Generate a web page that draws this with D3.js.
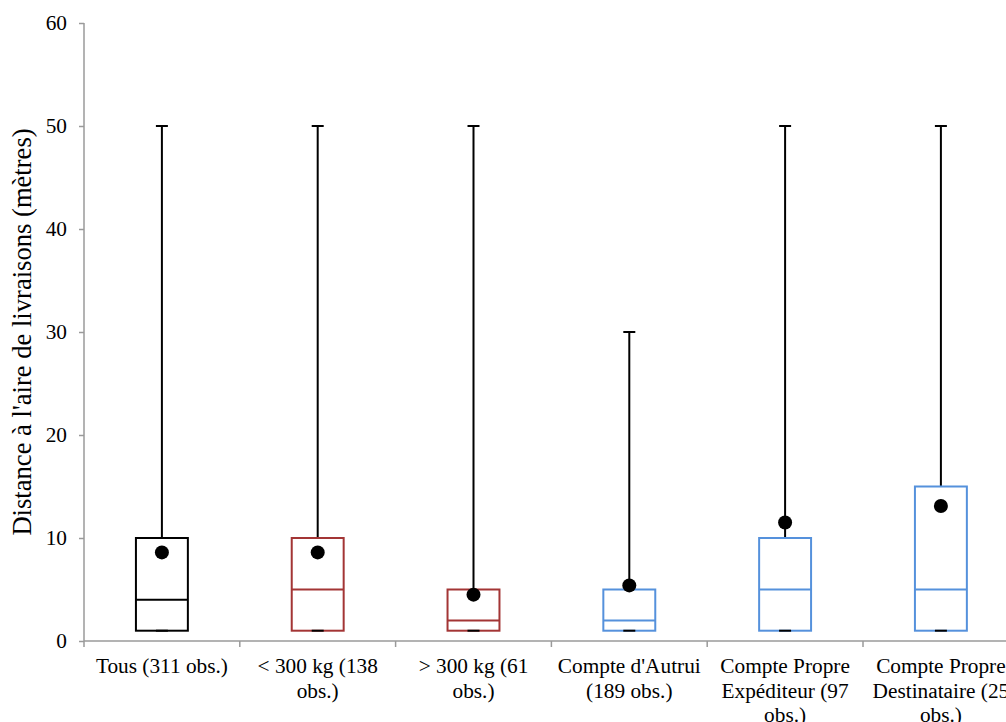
<!DOCTYPE html>
<html><head><meta charset="utf-8">
<script src="https://cdn.jsdelivr.net/npm/d3@7"></script>
<style>body{margin:0;background:#fff}svg{display:block}svg text{font-family:"Liberation Serif","Times New Roman","DejaVu Serif",serif}</style>
</head><body>
<script>
const categories = ["Tous (311 obs.)", "< 300 kg (138\nobs.)", "> 300 kg (61\nobs.)", "Compte d'Autrui\n(189 obs.)", "Compte Propre\nExpéditeur (97\nobs.)", "Compte Propre\nDestinataire (25\nobs.)"];
const minVals = [1, 1, 1, 1, 1, 1];
const q1Vals = [1, 1, 1, 1, 1, 1];
const medianVals = [4, 5, 2, 2, 5, 5];
const q3Vals = [10, 10, 5, 5, 10, 15];
const maxVals = [50, 50, 50, 30, 50, 50];
const meanVals = [8.6, 8.6, 4.5, 5.4, 11.5, 13.1];
const boxColors = ["#000000", "#a33535", "#a33535", "#5591dc", "#5591dc", "#5591dc"];
const yTicks = [0, 10, 20, 30, 40, 50, 60];
const yTitle = "Distance à l'aire de livraisons (mètres)";

(function () {
const W = 1006, H = 722;
const mLeft = 84, mTop = 23, mBottom = 641;
const bandW = 155.8;
const svg = d3.select("body").append("svg").attr("width", W).attr("height", H);
const x = d3.scaleBand().domain(categories).range([mLeft, mLeft + bandW * categories.length]).padding(0);
const y = d3.scaleLinear().domain([0, 60]).range([mBottom, mTop]);

// y axis
const yAxis = svg.append("g").attr("transform", `translate(${mLeft},0)`)
  .call(d3.axisLeft(y).tickValues(yTicks).tickSize(5).tickPadding(12));
yAxis.attr("font-family", null);
yAxis.selectAll("path,line").attr("stroke", "#9a9a9a").attr("stroke-width", 1.5);
yAxis.select(".domain").attr("d", `M0,${mTop}V${mBottom}`);
yAxis.selectAll("text").attr("font-size", 21.3).attr("fill", "#000");

// x axis
const xAxis = svg.append("g").attr("transform", `translate(0,${mBottom})`);
xAxis.append("line").attr("x1", mLeft).attr("x2", mLeft + bandW * categories.length).attr("stroke", "#9a9a9a").attr("stroke-width", 1.5);
const edges = categories.map(c => x(c)).concat([mLeft + bandW * categories.length]);
xAxis.selectAll(".tk").data(edges).join("line").attr("x1", d => d).attr("x2", d => d).attr("y1", 0).attr("y2", 6)
  .attr("stroke", "#9a9a9a").attr("stroke-width", 1.5);
categories.forEach(c => {
  const t = xAxis.append("text").attr("x", x(c) + x.bandwidth() / 2).attr("y", 32)
    .attr("text-anchor", "middle").attr("font-size", 21.3).attr("fill", "#000");
  c.split("\n").forEach((ln, i) => t.append("tspan").attr("x", x(c) + x.bandwidth() / 2).attr("dy", i === 0 ? 0 : 24.5).text(ln));
});

// y title
svg.append("text").attr("transform", `translate(31,${(mTop + mBottom) / 2}) rotate(-90)`)
  .attr("text-anchor", "middle").attr("font-size", 26.6).attr("fill", "#000").text(yTitle);

// boxes
const boxW = bandW / 3, capW = 12;
categories.forEach((c, i) => {
  const cx = x(c) + x.bandwidth() / 2;
  const g = svg.append("g");
  g.append("line").attr("x1", cx).attr("x2", cx).attr("y1", y(q3Vals[i])).attr("y2", y(maxVals[i])).attr("stroke", "#000").attr("stroke-width", 2);
  g.append("line").attr("x1", cx - capW / 2).attr("x2", cx + capW / 2).attr("y1", y(maxVals[i])).attr("y2", y(maxVals[i])).attr("stroke", "#000").attr("stroke-width", 2);
  g.append("rect").attr("x", cx - boxW / 2).attr("y", y(q3Vals[i])).attr("width", boxW).attr("height", y(q1Vals[i]) - y(q3Vals[i]))
    .attr("fill", "none").attr("stroke", boxColors[i]).attr("stroke-width", 2);
  g.append("line").attr("x1", cx - boxW / 2).attr("x2", cx + boxW / 2).attr("y1", y(medianVals[i])).attr("y2", y(medianVals[i]))
    .attr("stroke", boxColors[i]).attr("stroke-width", 2);
  g.append("line").attr("x1", cx - capW / 2).attr("x2", cx + capW / 2).attr("y1", y(minVals[i])).attr("y2", y(minVals[i])).attr("stroke", "#000").attr("stroke-width", 2);
  g.append("circle").attr("cx", cx).attr("cy", y(meanVals[i])).attr("r", 7).attr("fill", "#000");
});
})();
</script>
</body></html>
